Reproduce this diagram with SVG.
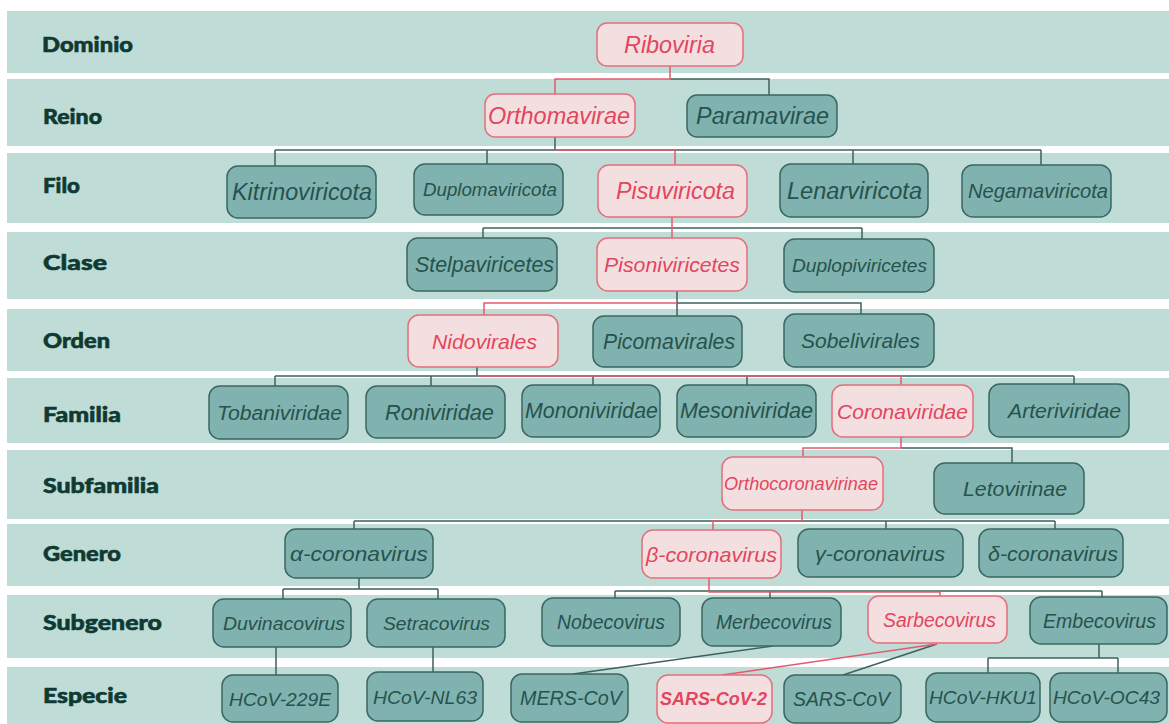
<svg xmlns="http://www.w3.org/2000/svg" width="1169" height="724" viewBox="0 0 1169 724">
  <defs>
    <style>
      .band { fill: #bfddd6; }
      .rank { font-family: Lato, "Noto Sans", sans-serif; font-weight: 900; font-size: 21.5px; fill: #0f3a33; stroke: #0f3a33; stroke-width: 0.6; }
      .n rect { fill: #80b3af; stroke: #3b6763; stroke-width: 1.5; }
      .n text { font-family: "Liberation Sans", Arial, sans-serif; font-style: italic; fill: #27524d; text-anchor: middle; dominant-baseline: central; }
      .p rect { fill: #f4dfe0; stroke: #e46f7d; stroke-width: 1.5; }
      .p text { font-family: "Liberation Sans", Arial, sans-serif; font-style: italic; fill: #e2465e; text-anchor: middle; dominant-baseline: central; }
      .lk { fill: none; stroke: #3d625e; stroke-width: 1.5; }
      .lr { fill: none; stroke: #e45a6c; stroke-width: 1.5; }
    </style>
  </defs>

  <rect width="1169" height="724" fill="#ffffff"/>

  <!-- rank bands -->
  <g id="bands">
    <rect class="band" x="7" y="11" width="1162" height="62"/>
    <rect class="band" x="7" y="79" width="1162" height="67"/>
    <rect class="band" x="7" y="153" width="1162" height="70"/>
    <rect class="band" x="7" y="232" width="1162" height="67"/>
    <rect class="band" x="7" y="309" width="1162" height="62"/>
    <rect class="band" x="7" y="378" width="1162" height="65"/>
    <rect class="band" x="7" y="450" width="1162" height="69"/>
    <rect class="band" x="7" y="524" width="1162" height="62"/>
    <rect class="band" x="7" y="595" width="1162" height="63"/>
    <rect class="band" x="7" y="667" width="1162" height="57"/>
  </g>

  <!-- rank labels -->
  <g id="ranks">
    <text class="rank" x="42" y="52" textLength="91" lengthAdjust="spacingAndGlyphs">Dominio</text>
    <text class="rank" x="43" y="124" textLength="59" lengthAdjust="spacingAndGlyphs">Reino</text>
    <text class="rank" x="43" y="193" textLength="37" lengthAdjust="spacingAndGlyphs">Filo</text>
    <text class="rank" x="43" y="270" textLength="64" lengthAdjust="spacingAndGlyphs">Clase</text>
    <text class="rank" x="43" y="348" textLength="67" lengthAdjust="spacingAndGlyphs">Orden</text>
    <text class="rank" x="43" y="422" textLength="78" lengthAdjust="spacingAndGlyphs">Familia</text>
    <text class="rank" x="43" y="493" textLength="116" lengthAdjust="spacingAndGlyphs">Subfamilia</text>
    <text class="rank" x="43" y="561" textLength="78" lengthAdjust="spacingAndGlyphs">Genero</text>
    <text class="rank" x="43" y="630" textLength="119" lengthAdjust="spacingAndGlyphs">Subgenero</text>
    <text class="rank" x="43" y="703" textLength="84" lengthAdjust="spacingAndGlyphs">Especie</text>
  </g>

  <!-- tree connectors: dark links first, the highlighted lineage on top -->
  <g id="connectors">
    <path class="lk" d="M670,79 H769 V95"/>
    <path class="lk" d="M555,137 V150 M275,150 H1041 M275,150 V166 M487,150 V164 M853,150 V164 M1041,150 V165"/>
    <path class="lk" d="M483,228 H862 M483,228 V238 M862,228 V239"/>
    <path class="lk" d="M677,291 V316 M677,303 H861 V314"/>
    <path class="lk" d="M477,367 V376 M275,376 H1074 M275,376 V386 M431,376 V386 M593,376 V385 M747,376 V385 M1074,376 V384"/>
    <path class="lk" d="M901,448 H1012 V463"/>
    <path class="lk" d="M354,521 H1055 M354,521 V529 M886,521 V529 M1055,521 V529"/>
    <path class="lk" d="M359,578 V589 M283,589 H438 M283,589 V599 M438,589 V599"/>
    <path class="lk" d="M615,591 H1102 M615,591 V598 M770,591 V598 M1102,591 V597"/>
    <path class="lk" d="M276,647 V675 M433,647 V672"/>
    <path class="lk" d="M773,646 L573,674 M937,644 L843,675"/>
    <path class="lk" d="M1099,644 V658 M988,658 H1118 M988,658 V673 M1118,658 V673"/>

    <path class="lr" d="M670,66 V79 H555 V94"/>
    <path class="lr" d="M555,150 H675 V165"/>
    <path class="lr" d="M672,217 V238"/>
    <path class="lr" d="M484,315 V303 H677"/>
    <path class="lr" d="M477,376 H901 V385"/>
    <path class="lr" d="M901,437 V448 H803 V457"/>
    <path class="lr" d="M802,510 V521 H713 V530"/>
    <path class="lr" d="M709,578 V592 H940 V596"/>
    <path class="lr" d="M937,644 L722,675"/>
  </g>

  <!-- Dominio -->
  <g id="riboviria" class="p"><rect x="597" y="23" width="146" height="43" rx="10"/><text x="669.5" y="44.5" font-size="23" textLength="91" lengthAdjust="spacingAndGlyphs">Riboviria</text></g>

  <!-- Reino -->
  <g id="orthomavirae" class="p"><rect x="485" y="94" width="150" height="43" rx="10"/><text x="559" y="115.5" font-size="23" textLength="142" lengthAdjust="spacingAndGlyphs">Orthomavirae</text></g>
  <g id="paramavirae" class="n"><rect x="687" y="95" width="150" height="42" rx="10"/><text x="762.5" y="116" font-size="23" textLength="133" lengthAdjust="spacingAndGlyphs">Paramavirae</text></g>

  <!-- Filo -->
  <g id="kitrinoviricota" class="n"><rect x="227" y="166" width="149" height="52" rx="11"/><text x="302" y="192" font-size="23" textLength="140" lengthAdjust="spacingAndGlyphs">Kitrinoviricota</text></g>
  <g id="duplomaviricota" class="n"><rect x="414" y="164" width="149" height="51" rx="11"/><text x="490" y="189.5" font-size="19" textLength="134" lengthAdjust="spacingAndGlyphs">Duplomaviricota</text></g>
  <g id="pisuviricota" class="p"><rect x="598" y="165" width="149" height="52" rx="11"/><text x="675.5" y="191" font-size="23" textLength="119" lengthAdjust="spacingAndGlyphs">Pisuviricota</text></g>
  <g id="lenarviricota" class="n"><rect x="780" y="164" width="148" height="53" rx="11"/><text x="854.5" y="190.5" font-size="23" textLength="135" lengthAdjust="spacingAndGlyphs">Lenarviricota</text></g>
  <g id="negamaviricota" class="n"><rect x="962" y="165" width="149" height="52" rx="11"/><text x="1038" y="191" font-size="20" textLength="140" lengthAdjust="spacingAndGlyphs">Negamaviricota</text></g>

  <!-- Clase -->
  <g id="stelpaviricetes" class="n"><rect x="407" y="238" width="150" height="53" rx="11"/><text x="484.5" y="264.5" font-size="21.5" textLength="139" lengthAdjust="spacingAndGlyphs">Stelpaviricetes</text></g>
  <g id="pisoniviricetes" class="p"><rect x="597" y="238" width="150" height="53" rx="11"/><text x="672" y="264.5" font-size="21" textLength="136" lengthAdjust="spacingAndGlyphs">Pisoniviricetes</text></g>
  <g id="duplopiviricetes" class="n"><rect x="784" y="239" width="150" height="53" rx="11"/><text x="859.5" y="265.5" font-size="18" textLength="135" lengthAdjust="spacingAndGlyphs">Duplopiviricetes</text></g>

  <!-- Orden -->
  <g id="nidovirales" class="p"><rect x="408" y="315" width="150" height="52" rx="11"/><text x="484.5" y="341" font-size="21" textLength="105" lengthAdjust="spacingAndGlyphs">Nidovirales</text></g>
  <g id="picomavirales" class="n"><rect x="593" y="316" width="149" height="51" rx="11"/><text x="669" y="341.5" font-size="21.5" textLength="132" lengthAdjust="spacingAndGlyphs">Picomavirales</text></g>
  <g id="sobelivirales" class="n"><rect x="784" y="314" width="150" height="53" rx="11"/><text x="860.5" y="340.5" font-size="21" textLength="119" lengthAdjust="spacingAndGlyphs">Sobelivirales</text></g>

  <!-- Familia -->
  <g id="tobaniviridae" class="n"><rect x="209" y="386" width="139" height="53" rx="11"/><text x="279.5" y="412.5" font-size="20" textLength="125" lengthAdjust="spacingAndGlyphs">Tobaniviridae</text></g>
  <g id="roniviridae" class="n"><rect x="366" y="386" width="139" height="52" rx="11"/><text x="439.5" y="412" font-size="22" textLength="109" lengthAdjust="spacingAndGlyphs">Roniviridae</text></g>
  <g id="mononiviridae" class="n"><rect x="522" y="385" width="138" height="52" rx="11"/><text x="591.5" y="411" font-size="21.5" textLength="133" lengthAdjust="spacingAndGlyphs">Mononiviridae</text></g>
  <g id="mesoniviridae" class="n"><rect x="677" y="385" width="139" height="52" rx="11"/><text x="746.5" y="411" font-size="21.5" textLength="133" lengthAdjust="spacingAndGlyphs">Mesoniviridae</text></g>
  <g id="coronaviridae" class="p"><rect x="832" y="385" width="141" height="52" rx="11"/><text x="902.5" y="411" font-size="21" textLength="131" lengthAdjust="spacingAndGlyphs">Coronaviridae</text></g>
  <g id="arteriviridae" class="n"><rect x="989" y="384" width="140" height="53" rx="11"/><text x="1064.5" y="410.5" font-size="21" textLength="113" lengthAdjust="spacingAndGlyphs">Arteriviridae</text></g>

  <!-- Subfamilia -->
  <g id="orthocoronavirinae" class="p"><rect x="722" y="457" width="161" height="53" rx="11"/><text x="801" y="483.5" font-size="17.5" textLength="154" lengthAdjust="spacingAndGlyphs">Orthocoronavirinae</text></g>
  <g id="letovirinae" class="n"><rect x="934" y="463" width="150" height="51" rx="11"/><text x="1015" y="488.5" font-size="21" textLength="104" lengthAdjust="spacingAndGlyphs">Letovirinae</text></g>

  <!-- Genero -->
  <g id="alpha-coronavirus" class="n"><rect x="285" y="529" width="148" height="49" rx="11"/><text x="359" y="553.5" font-size="21" textLength="138" lengthAdjust="spacingAndGlyphs">α-coronavirus</text></g>
  <g id="beta-coronavirus" class="p"><rect x="642" y="530" width="139" height="48" rx="11"/><text x="711.5" y="554" font-size="21" textLength="131" lengthAdjust="spacingAndGlyphs">β-coronavirus</text></g>
  <g id="gamma-coronavirus" class="n"><rect x="798" y="529" width="165" height="48" rx="11"/><text x="880" y="553" font-size="21" textLength="130" lengthAdjust="spacingAndGlyphs">γ-coronavirus</text></g>
  <g id="delta-coronavirus" class="n"><rect x="979" y="529" width="144" height="48" rx="11"/><text x="1053" y="553" font-size="21" textLength="130" lengthAdjust="spacingAndGlyphs">δ-coronavirus</text></g>

  <!-- Subgenero -->
  <g id="duvinacovirus" class="n"><rect x="213" y="599" width="138" height="48" rx="11"/><text x="284" y="623" font-size="19" textLength="122" lengthAdjust="spacingAndGlyphs">Duvinacovirus</text></g>
  <g id="setracovirus" class="n"><rect x="367" y="599" width="138" height="48" rx="11"/><text x="436.5" y="623" font-size="19" textLength="107" lengthAdjust="spacingAndGlyphs">Setracovirus</text></g>
  <g id="nobecovirus" class="n"><rect x="542" y="598" width="138" height="48" rx="11"/><text x="611" y="622" font-size="19.5" textLength="108" lengthAdjust="spacingAndGlyphs">Nobecovirus</text></g>
  <g id="merbecovirus" class="n"><rect x="702" y="598" width="139" height="48" rx="11"/><text x="774" y="622" font-size="19.5" textLength="116" lengthAdjust="spacingAndGlyphs">Merbecovirus</text></g>
  <g id="sarbecovirus" class="p"><rect x="868" y="596" width="139" height="47" rx="11"/><text x="939.5" y="619.5" font-size="19.5" textLength="113" lengthAdjust="spacingAndGlyphs">Sarbecovirus</text></g>
  <g id="embecovirus" class="n"><rect x="1030" y="597" width="137" height="47" rx="11"/><text x="1099.5" y="620.5" font-size="19.5" textLength="113" lengthAdjust="spacingAndGlyphs">Embecovirus</text></g>

  <!-- Especie -->
  <g id="hcov-229e" class="n"><rect x="222" y="675" width="116" height="47" rx="11"/><text x="280" y="699" font-size="19" textLength="102" lengthAdjust="spacingAndGlyphs">HCoV-229E</text></g>
  <g id="hcov-nl63" class="n"><rect x="367" y="672" width="116" height="49" rx="11"/><text x="425" y="697" font-size="19" textLength="104" lengthAdjust="spacingAndGlyphs">HCoV-NL63</text></g>
  <g id="mers-cov" class="n"><rect x="511" y="674" width="117" height="48" rx="11"/><text x="571" y="698" font-size="19.5" textLength="102" lengthAdjust="spacingAndGlyphs">MERS-CoV</text></g>
  <g id="sars-cov-2" class="p"><rect x="657" y="675" width="115" height="48" rx="11" stroke-width="2.6"/><text x="713.5" y="699" font-size="18" font-weight="bold" textLength="107" lengthAdjust="spacingAndGlyphs">SARS-CoV-2</text></g>
  <g id="sars-cov" class="n"><rect x="784" y="675" width="117" height="48" rx="11"/><text x="841.5" y="699" font-size="19.5" textLength="97" lengthAdjust="spacingAndGlyphs">SARS-CoV</text></g>
  <g id="hcov-hku1" class="n"><rect x="926" y="673" width="114" height="49" rx="11"/><text x="983" y="697.5" font-size="19" textLength="108" lengthAdjust="spacingAndGlyphs">HCoV-HKU1</text></g>
  <g id="hcov-oc43" class="n"><rect x="1050" y="673" width="117" height="49" rx="11"/><text x="1106.5" y="697.5" font-size="19" textLength="107" lengthAdjust="spacingAndGlyphs">HCoV-OC43</text></g>
</svg>
